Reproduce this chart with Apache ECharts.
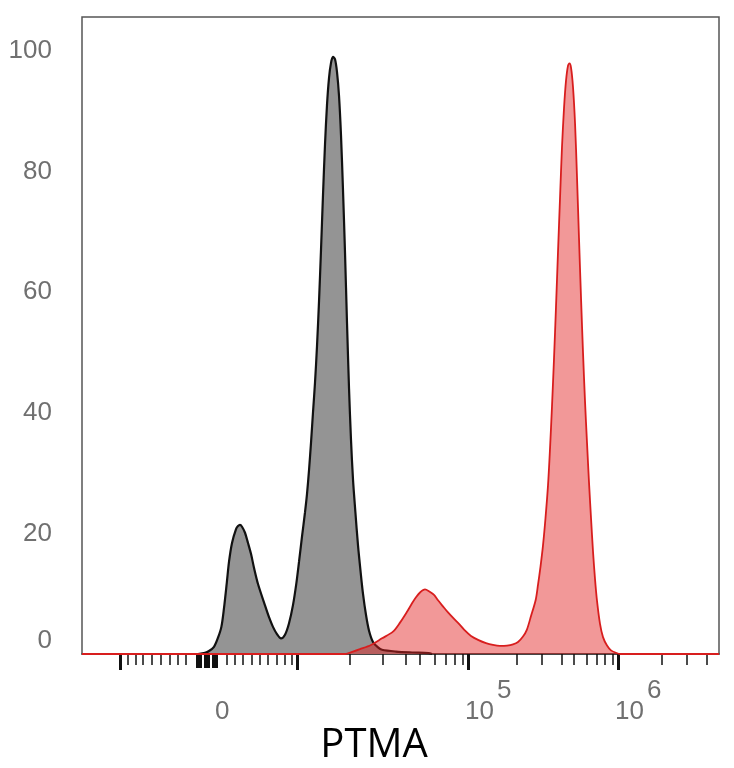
<!DOCTYPE html>
<html>
<head>
<meta charset="utf-8">
<script src="https://cdn.jsdelivr.net/npm/echarts@6/dist/echarts.min.js"></script>
<style>
html,body{margin:0;padding:0;background:#fff;}
#chart{width:734px;height:768px;}
</style>
</head>
<body>
<div id="chart"></div>
<script>
// x axis is a display (channel) scale 0..1000 of a biexponential axis
const grayX = [182.1,193.1,199.4,207.2,213.5,218.8,222.9,227.3,230.8,235.5,241.8,244.9,248.0,251.2,255.9,260.6,265.3,270.0,276.3,286.2,293.6,299.8,306.1,312.4,318.7,325.0,331.2,336.6,340.7,345.4,350.1,353.2,356.4,359.5,362.6,365.8,368.9,372.1,375.2,378.3,381.5,384.6,387.8,390.9,394.0,397.2,400.3,403.5,406.6,409.7,412.9,416.0,419.2,422.3,425.4,429.2,433.3,437.5,441.1,445.8,450.5,456.8,464.7,471.0,492.9,518.1,544.1,549.5];
const grayY = [0,0.2,0.5,1.2,2.7,4.5,7.6,11.8,15.3,18.4,20.7,21.2,21.4,21.1,20.1,18.4,16.6,14.3,11.6,8.4,6.1,4.5,3.3,2.6,3.2,5.1,8.1,11.8,15.3,19.5,23.5,26.5,30.5,35,40,45,51,58.5,67,76,84.5,91,95.5,98,99,98.6,96.5,92.5,86,77,66.5,55,44,35.5,29,23.5,18,13.5,10,6.5,3.9,2,1.1,0.7,0.4,0.25,0.15,0];

const redX = [0,412.9,417.6,436.4,453.7,471.0,488.2,499.2,510.2,518.1,524.3,530.6,538.5,544.7,552.6,558.9,566.7,574.6,583.4,591.8,600.2,610.7,622.6,634.2,645.2,656.2,667.2,676.6,684.5,692.3,698.3,704.9,712.3,715.9,719.8,723.7,727.6,731.6,734.7,737.8,741.0,744.1,747.2,750.4,753.5,756.7,759.8,762.9,765.3,767.7,770.8,774.0,777.1,780.2,783.4,786.5,789.6,792.8,795.9,799.1,802.2,805.3,808.5,813.2,817.9,824.2,830.5,838.3,844.6,1000];
const redY = [0,0,0.1,0.8,1.5,2.6,3.7,5.2,7.0,8.4,9.4,10.2,10.7,10.4,9.8,8.9,7.9,6.9,5.9,5.0,4.0,3.0,2.3,1.8,1.5,1.35,1.4,1.6,2.0,2.9,4.0,6.3,9.0,11.5,14.5,18,22.5,28,34,41,49,57.5,66.5,75.5,84,90.5,95,97.5,97.9,97.2,94,88,79,69,59,50,42,35,28.5,22.5,17,12.5,8.8,5,2.8,1.4,0.6,0.2,0,0];

const majorTicks = [59.7, 337.5, 606.0, 841.4];
const minorTicks = [72.2,84.8,95.8,109.9,124.0,138.1,150.7,163.3,227.6,240.2,252.7,266.9,279.4,292.0,306.1,318.7,329.7,420.7,472.5,508.6,530.6,554.2,571.4,585.6,598.1,682.9,722.1,753.5,772.4,792.8,808.5,821.0,833.6,910.5,949.8,981.2];
const zeroTicks = [180.5,183.7,186.8,193.1,196.2,199.4,205.6,208.8,211.9];
const xLabelPos = [208.8, 601.3, 836.7];
const xLabelBase = ['0', '10', '10'];
const xExpPos = [651.5, 887.0];
const xExpText = ['5', '6'];
const yLabels = [0, 20, 40, 60, 80, 100];
const xTitle = 'PTMA';

function pairs(xs, ys) { return xs.map((x, i) => [x, ys[i]]); }
function nearest(arr, v) {
  let i = 0, best = 1e9;
  arr.forEach((p, k) => { if (Math.abs(p - v) < best) { best = Math.abs(p - v); i = k; } });
  return i;
}

const chart = echarts.init(document.getElementById('chart'));
const labelFont = 'Liberation Sans, Arial, sans-serif';
const labelColor = '#707070';
const baseAxis = {
  type: 'value', min: 0, max: 1000, position: 'bottom',
  splitLine: { show: false }, axisLine: { show: false },
  axisLabel: { show: false }
};
chart.setOption({
  animation: false,
  backgroundColor: '#ffffff',
  grid: { left: 82, right: 15, top: 17, bottom: 114, show: true, borderColor: '#555', borderWidth: 1.5 },
  title: {
    text: xTitle, left: 369, top: 721, textAlign: 'center',
    textStyle: { fontFamily: 'Open Sans, Noto Sans, sans-serif', fontSize: 40, fontWeight: 'normal', color: '#000' }
  },
  xAxis: [
    Object.assign({}, baseAxis, {
      axisLine: { show: true, lineStyle: { color: '#333', width: 1.5 } },
      axisTick: { show: true, customValues: majorTicks, length: 16, lineStyle: { color: '#111', width: 3 } },
      axisLabel: {
        show: true, customValues: xLabelPos, align: 'left', margin: 45,
        fontFamily: labelFont, fontSize: 26, color: labelColor,
        formatter: function (v) { return xLabelBase[nearest(xLabelPos, v)]; }
      }
    }),
    Object.assign({}, baseAxis, {
      axisTick: { show: true, customValues: minorTicks, length: 11, lineStyle: { color: '#111', width: 1.5 } },
      axisLabel: {
        show: true, customValues: xExpPos, align: 'left', margin: 24,
        fontFamily: labelFont, fontSize: 26, color: labelColor,
        formatter: function (v) { return xExpText[nearest(xExpPos, v)]; }
      }
    }),
    Object.assign({}, baseAxis, {
      axisTick: { show: true, customValues: zeroTicks, length: 14, lineStyle: { color: '#111', width: 2 } }
    })
  ],
  yAxis: {
    type: 'value', min: 0, max: 105.6,
    splitLine: { show: false },
    axisLine: { show: false },
    axisTick: { show: false },
    axisLabel: {
      customValues: yLabels, margin: 30,
      fontFamily: labelFont, fontSize: 26, color: labelColor,
      formatter: function (v) { return v === 0 ? '{z|0}' : String(v); },
      rich: { z: { fontFamily: labelFont, fontSize: 26, color: labelColor, padding: [0, 0, 26, 0] } }
    }
  },
  series: [
    {
      type: 'line', xAxisIndex: 0, data: pairs(grayX, grayY),
      smooth: 0.3, symbol: 'none', z: 2,
      lineStyle: { color: '#111', width: 2.2 },
      areaStyle: { color: '#949494', opacity: 1 }
    },
    {
      type: 'line', xAxisIndex: 0, data: pairs(redX, redY),
      smooth: 0.3, symbol: 'none', z: 3,
      lineStyle: { color: '#d81e1e', width: 1.8 },
      areaStyle: { color: 'rgba(226,30,30,0.46)', opacity: 1 }
    }
  ]
});
</script>
</body>
</html>
